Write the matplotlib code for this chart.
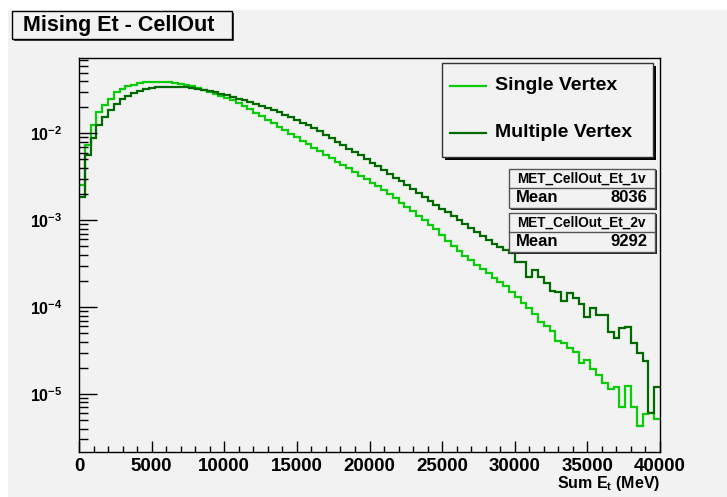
import matplotlib
matplotlib.use("Agg")
import matplotlib.pyplot as plt
from matplotlib.patches import Rectangle
from matplotlib.ticker import LogLocator, MultipleLocator, NullFormatter
import numpy as np

plt.rcParams['font.family'] = ['Liberation Sans', 'DejaVu Sans']
plt.rcParams['font.weight'] = 'bold'
plt.rcParams['mathtext.fontset'] = 'custom'
plt.rcParams['mathtext.rm'] = 'Liberation Sans:bold'
plt.rcParams['mathtext.it'] = 'Liberation Sans:bold'
plt.rcParams['mathtext.bf'] = 'Liberation Sans:bold'

# 100 bins of 400 MeV, 0 - 40000 MeV
bin_edges = np.arange(0, 40001, 400)

single_vertex = [
    2.51e-3, 7.24e-3, 1.26e-2, 1.74e-2, 2.14e-2, 2.51e-2, 2.95e-2, 3.24e-2, 3.47e-2, 3.63e-2,
    3.76e-2, 3.89e-2, 3.94e-2, 3.94e-2, 3.93e-2, 3.89e-2, 3.80e-2, 3.72e-2, 3.59e-2, 3.47e-2,
    3.31e-2, 3.16e-2, 3.02e-2, 2.85e-2, 2.69e-2, 2.57e-2, 2.40e-2, 2.26e-2, 2.07e-2, 1.88e-2,
    1.72e-2, 1.57e-2, 1.43e-2, 1.30e-2, 1.19e-2, 1.08e-2, 9.89e-3, 9.02e-3, 8.22e-3, 7.50e-3,
    6.84e-3, 6.24e-3, 5.69e-3, 5.19e-3, 4.73e-3, 4.32e-3, 3.94e-3, 3.59e-3, 3.24e-3, 2.95e-3,
    2.69e-3, 2.45e-3, 2.21e-3, 2.00e-3, 1.78e-3, 1.58e-3, 1.41e-3, 1.26e-3, 1.12e-3, 1.00e-3,
    8.91e-4, 7.94e-4, 6.76e-4, 5.75e-4, 5.01e-4, 4.37e-4, 3.89e-4, 3.47e-4, 3.09e-4, 2.75e-4,
    2.45e-4, 2.19e-4, 1.95e-4, 1.74e-4, 1.51e-4, 1.32e-4, 1.10e-4, 9.77e-5, 8.32e-5, 6.79e-5,
    6.05e-5, 5.31e-5, 4.07e-5, 3.83e-5, 3.36e-5, 3.02e-5, 2.29e-5, 2.46e-5, 1.92e-5, 1.66e-5,
    1.35e-5, 1.13e-5, 1.21e-5, 7.14e-6, 1.24e-5, 7.14e-6, 4.32e-6, 5.89e-6, 6.00e-6, 5.12e-6,
]

multiple_vertex = [
    1.84e-3, 5.62e-3, 8.91e-3, 1.23e-2, 1.55e-2, 1.86e-2, 2.16e-2, 2.45e-2, 2.72e-2, 2.92e-2,
    3.09e-2, 3.20e-2, 3.31e-2, 3.39e-2, 3.43e-2, 3.45e-2, 3.45e-2, 3.43e-2, 3.39e-2, 3.31e-2,
    3.24e-2, 3.16e-2, 3.05e-2, 2.95e-2, 2.85e-2, 2.75e-2, 2.63e-2, 2.51e-2, 2.40e-2, 2.29e-2,
    2.19e-2, 2.07e-2, 1.95e-2, 1.84e-2, 1.74e-2, 1.64e-2, 1.53e-2, 1.43e-2, 1.33e-2, 1.24e-2,
    1.16e-2, 1.06e-2, 9.66e-3, 8.81e-3, 8.04e-3, 7.33e-3, 6.68e-3, 6.10e-3, 5.56e-3, 5.07e-3,
    4.57e-3, 4.17e-3, 3.80e-3, 3.43e-3, 3.09e-3, 2.82e-3, 2.54e-3, 2.29e-3, 2.07e-3, 1.86e-3,
    1.68e-3, 1.51e-3, 1.36e-3, 1.23e-3, 1.11e-3, 1.00e-3, 9.02e-4, 8.13e-4, 7.33e-4, 6.61e-4,
    5.96e-4, 5.37e-4, 4.90e-4, 4.52e-4, 4.16e-4, 3.27e-4, 3.27e-4, 2.24e-4, 2.67e-4, 2.24e-4,
    1.88e-4, 1.55e-4, 1.50e-4, 1.19e-4, 1.44e-4, 1.26e-4, 1.09e-4, 7.64e-5, 9.68e-5, 8.11e-5,
    8.11e-5, 5.21e-5, 4.38e-5, 5.70e-5, 5.96e-5, 3.83e-5, 2.94e-5, 2.42e-5, 6.10e-6, 1.21e-5,
]

series_names = ["Single Vertex", "Multiple Vertex"]
stat_names = ["MET_CellOut_Et_1v", "MET_CellOut_Et_2v"]
stat_means = ["8036", "9292"]
y_ticks = [1e-5, 1e-4, 1e-3, 1e-2]
y_labels = [r"$10^{-5}$", r"$10^{-4}$", r"$10^{-3}$", r"$10^{-2}$"]

LIGHT = "#0acc0a"
DARK = "#006a00"
BG = "#f2f2f2"
W, H = 727, 497

fig = plt.figure(figsize=(W / 100, H / 100), dpi=100)
fig.patch.set_facecolor("white")
# gris del canvas (margen blanco arriba/izquierda)
fig.add_artist(Rectangle((8 / W, 0), 1, 1 - 10 / H, transform=fig.transFigure,
                         facecolor=BG, edgecolor="none", zorder=-5))

ax = fig.add_axes([79 / W, 1 - 452 / H, (660 - 79) / W, (452 - 58) / H])
ax.set_facecolor(BG)
ax.stairs(single_vertex, bin_edges, color=LIGHT, lw=1.6, baseline=None)
ax.stairs(multiple_vertex, bin_edges, color=DARK, lw=1.6, baseline=None)

ax.set_yscale("log")
ax.set_xlim(0, 40000)
ax.set_ylim(2.15e-6, 7.35e-2)
for s in ax.spines.values():
    s.set_linewidth(1.0)

ax.xaxis.set_major_locator(MultipleLocator(5000))
ax.xaxis.set_minor_locator(MultipleLocator(1000))
ax.set_yticks(y_ticks, y_labels)
ax.yaxis.set_minor_locator(LogLocator(base=10, subs=np.arange(2, 10)))
ax.yaxis.set_minor_formatter(NullFormatter())
ax.tick_params(axis="x", which="major", direction="in", length=8, width=1,
               labelsize=13.5, pad=4)
ax.tick_params(axis="x", which="minor", direction="in", length=4, width=1)
ax.tick_params(axis="y", which="major", direction="in", length=13, width=1,
               labelsize=11.5, pad=12)
ax.tick_params(axis="y", which="minor", direction="in", length=6.5, width=1)
for lab in ax.get_xticklabels():
    lab.set_fontweight("bold")

# capa en pixeles para cajas y textos
ov = fig.add_axes([0, 0, 1, 1], zorder=5)
ov.set_xlim(0, W)
ov.set_ylim(H, 0)
ov.set_axis_off()
ov.patch.set_alpha(0)

# titulo
ov.add_patch(Rectangle((14, 13), 220, 28, facecolor="#444444", edgecolor="none"))
ov.add_patch(Rectangle((12, 11), 220, 28, facecolor=BG, edgecolor="black", lw=1))
ov.text(23, 25.5, "Mising Et - CellOut", fontsize=15.5, fontweight="bold",
        ha="left", va="center")

# leyenda
ov.add_patch(Rectangle((445, 66), 211, 94, facecolor="black", edgecolor="none"))
ov.add_patch(Rectangle((441.5, 62.5), 211, 94, facecolor=BG, edgecolor="#333333", lw=1))
for name, col, yy in zip(series_names, [LIGHT, DARK], [86, 132.5]):
    ov.plot([450, 486], [yy, yy], color=col, lw=1.6)
    ov.text(495, yy, name, fontsize=14, fontweight="bold", ha="left", va="center")

# cajas de estadistica
for i, (nm, mean) in enumerate(zip(stat_names, stat_means)):
    top = 168.5 + i * 44
    ov.add_patch(Rectangle((510.5, top + 1.5), 146, 39.5, facecolor="#222222", edgecolor="none"))
    ov.add_patch(Rectangle((509, top), 146, 39.5, facecolor=BG, edgecolor="#555555", lw=1))
    ov.plot([509, 655], [top + 19.5, top + 19.5], color="#555555", lw=1)
    ov.text(581, top + 10, nm, fontsize=9.8, fontweight="bold", ha="center", va="center")
    ov.text(516, top + 29.5, "Mean", fontsize=12, fontweight="bold", ha="left", va="center")
    ov.text(647, top + 29.5, mean, fontsize=12, fontweight="bold", ha="right", va="center")

ov.text(660, 488, r"Sum E$_{t}$ (MeV)", fontsize=11.5, fontweight="bold",
        ha="right", va="baseline")

fig.savefig("out.png", dpi=100, facecolor=fig.get_facecolor())
